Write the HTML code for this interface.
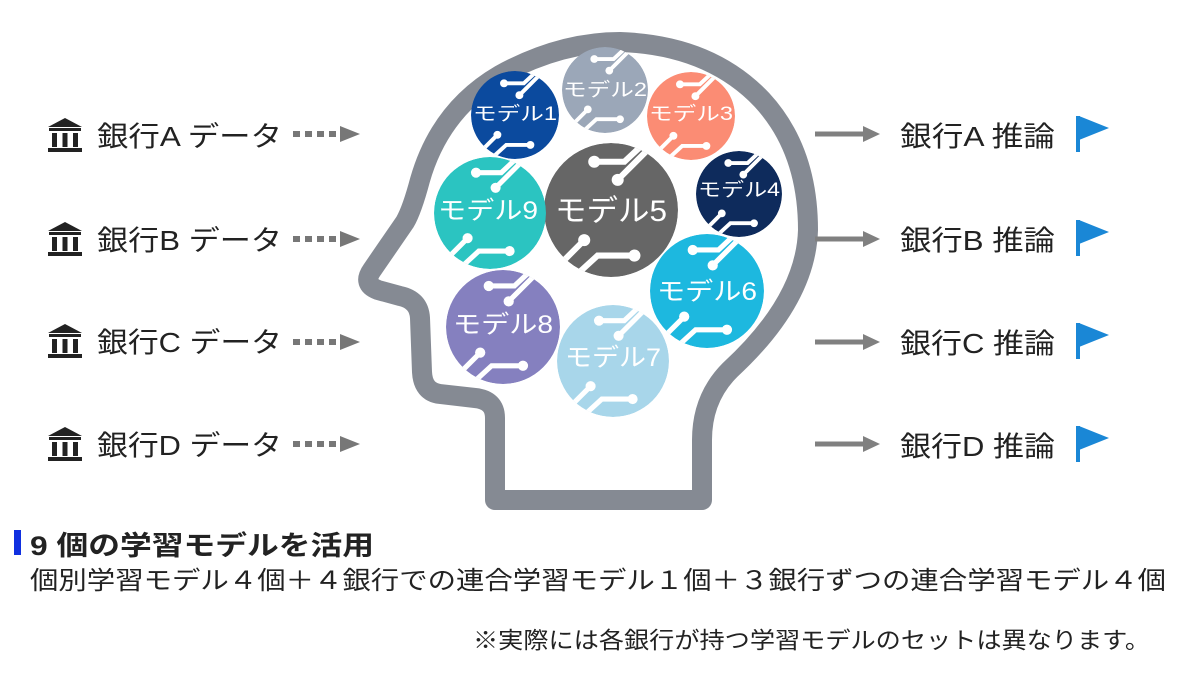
<!DOCTYPE html>
<html><head><meta charset="utf-8"><style>
html,body{margin:0;padding:0;background:#fff;}
svg{display:block;}
text{font-family:"Liberation Sans","Noto Sans CJK JP",sans-serif;}
</style></head><body>
<svg width="1200" height="674" viewBox="0 0 1200 674" xmlns="http://www.w3.org/2000/svg">
<defs>
<g id="bank">
  <polygon points="0,9 17,0 34,9" fill="#222"/>
  <rect x="1" y="10" width="32" height="3" fill="#222"/>
  <rect x="4" y="15" width="5" height="14" fill="#222"/>
  <rect x="14.5" y="15" width="5" height="14" fill="#222"/>
  <rect x="25" y="15" width="5" height="14" fill="#222"/>
  <rect x="0" y="30" width="34" height="4" fill="#222"/>
</g>
<g id="darr">
  <rect x="0" y="-3" width="7" height="6" fill="#777"/>
  <rect x="12" y="-3" width="7" height="6" fill="#777"/>
  <rect x="24" y="-3" width="7" height="6" fill="#777"/>
  <rect x="36" y="-3" width="7" height="6" fill="#777"/>
  <polygon points="47,-8 67,0 47,8" fill="#777"/>
</g>
<g id="sarr">
  <rect x="0" y="-2.5" width="50" height="5" fill="#808080"/>
  <polygon points="48,-8 65,0 48,8" fill="#808080"/>
</g>
<g id="flag">
  <rect x="0" y="0" width="4" height="36" fill="#1a87d6"/>
  <polygon points="3,0 33,12 3,24" fill="#1a87d6"/>
</g>
<g id="circ">
  <g stroke="#fff" stroke-width="0.09" fill="none" stroke-linecap="round">
    <path d="M-0.25,-0.72 L0.2,-0.72 L0.5,-1.0"/>
    <path d="M0.1,-0.45 L0.55,-0.9"/>
    <path d="M-0.55,1.0 L-0.2,0.68 L0.35,0.68"/>
    <path d="M-0.85,0.9 L-0.4,0.45"/>
  </g>
  <g fill="#fff">
    <circle cx="-0.25" cy="-0.72" r="0.09"/>
    <circle cx="0.1" cy="-0.45" r="0.09"/>
    <circle cx="0.35" cy="0.68" r="0.09"/>
    <circle cx="-0.4" cy="0.45" r="0.09"/>
  </g>
</g>
<clipPath id="cc"><circle cx="0" cy="0" r="1"/></clipPath>
</defs>

<!-- Head -->
<path d="M495,500 L495,418 Q495,400 475,398 L440,394 Q423,392 422,372 L420,318 Q419,300 400,296 L378,290 Q362,284 372,270 L405,222 Q412,210 420,180 Q440,110 500,75 Q560,42 620,42 Q710,45 762,100 Q808,150 808,230 Q806,300 730,370 Q702,398 702,440 L702,500 Z" fill="none" stroke="#858a93" stroke-width="20" stroke-linejoin="round"/>

<!-- Circles -->
<g>
<g transform="translate(515,115) scale(44)"><g clip-path="url(#cc)"><circle r="1" fill="#0b4a9e"/><use href="#circ"/></g></g>
<g transform="translate(605,90) scale(43)"><g clip-path="url(#cc)"><circle r="1" fill="#9ba7b8"/><use href="#circ"/></g></g>
<g transform="translate(691,116) scale(44)"><g clip-path="url(#cc)"><circle r="1" fill="#fb8c74"/><use href="#circ"/></g></g>
<g transform="translate(739,194) scale(43)"><g clip-path="url(#cc)"><circle r="1" fill="#0e2b5c"/><use href="#circ"/></g></g>
<g transform="translate(611,210) scale(67)"><g clip-path="url(#cc)"><circle r="1" fill="#666666"/><use href="#circ"/></g></g>
<g transform="translate(490,213) scale(56)"><g clip-path="url(#cc)"><circle r="1" fill="#2bc4c1"/><use href="#circ"/></g></g>
<g transform="translate(707,291) scale(57)"><g clip-path="url(#cc)"><circle r="1" fill="#1db8df"/><use href="#circ"/></g></g>
<g transform="translate(503,327) scale(57)"><g clip-path="url(#cc)"><circle r="1" fill="#8580bf"/><use href="#circ"/></g></g>
<g transform="translate(613,361) scale(56)"><g clip-path="url(#cc)"><circle r="1" fill="#a8d6ea"/><use href="#circ"/></g></g>
</g>
<g fill="#fff" text-anchor="middle">
<text x="515" y="120" font-size="19" textLength="84" lengthAdjust="spacingAndGlyphs">モデル1</text>
<text x="605" y="96" font-size="19" textLength="84" lengthAdjust="spacingAndGlyphs">モデル2</text>
<text x="691" y="120" font-size="19" textLength="84" lengthAdjust="spacingAndGlyphs">モデル3</text>
<text x="739" y="196" font-size="19" textLength="82" lengthAdjust="spacingAndGlyphs">モデル4</text>
<text x="611" y="221" font-size="30" textLength="112" lengthAdjust="spacingAndGlyphs">モデル5</text>
<text x="488" y="219" font-size="25" textLength="100" lengthAdjust="spacingAndGlyphs">モデル9</text>
<text x="707" y="300" font-size="25" textLength="100" lengthAdjust="spacingAndGlyphs">モデル6</text>
<text x="503" y="333" font-size="25" textLength="100" lengthAdjust="spacingAndGlyphs">モデル8</text>
<text x="613" y="366" font-size="25" textLength="96" lengthAdjust="spacingAndGlyphs">モデル7</text>
</g>

<!-- Left rows -->
<g font-size="28" fill="#222">
<use href="#bank" x="48" y="118"/>
<text x="97" y="146" textLength="185" lengthAdjust="spacingAndGlyphs">銀行A データ</text>
<use href="#darr" x="293" y="134"/>
<use href="#bank" x="48" y="222"/>
<text x="97" y="250" textLength="185" lengthAdjust="spacingAndGlyphs">銀行B データ</text>
<use href="#darr" x="293" y="239"/>
<use href="#bank" x="48" y="324"/>
<text x="97" y="352" textLength="185" lengthAdjust="spacingAndGlyphs">銀行C データ</text>
<use href="#darr" x="293" y="342"/>
<use href="#bank" x="48" y="427"/>
<text x="97" y="455" textLength="185" lengthAdjust="spacingAndGlyphs">銀行D データ</text>
<use href="#darr" x="293" y="444"/>
</g>

<!-- Right rows -->
<g font-size="28" fill="#222">
<use href="#sarr" x="815" y="134"/>
<text x="900" y="146" textLength="155" lengthAdjust="spacingAndGlyphs">銀行A 推論</text>
<use href="#flag" x="1076" y="116"/>
<use href="#sarr" x="815" y="239"/>
<text x="900" y="250" textLength="155" lengthAdjust="spacingAndGlyphs">銀行B 推論</text>
<use href="#flag" x="1076" y="220"/>
<use href="#sarr" x="815" y="342"/>
<text x="900" y="353" textLength="155" lengthAdjust="spacingAndGlyphs">銀行C 推論</text>
<use href="#flag" x="1076" y="323"/>
<use href="#sarr" x="815" y="444"/>
<text x="900" y="456" textLength="155" lengthAdjust="spacingAndGlyphs">銀行D 推論</text>
<use href="#flag" x="1076" y="426"/>
</g>

<!-- Bottom text -->
<rect x="14" y="530" width="7" height="25" fill="#1030e0"/>
<text x="30" y="555" font-size="27" font-weight="bold" fill="#222" textLength="344" lengthAdjust="spacingAndGlyphs">9 個の学習モデルを活用</text>
<text x="30" y="589" font-size="25" fill="#222" textLength="1136" lengthAdjust="spacingAndGlyphs">個別学習モデル４個＋４銀行での連合学習モデル１個＋３銀行ずつの連合学習モデル４個</text>
<text x="473" y="648" font-size="23" fill="#222" textLength="677" lengthAdjust="spacingAndGlyphs">※実際には各銀行が持つ学習モデルのセットは異なります。</text>
</svg>
</body></html>
